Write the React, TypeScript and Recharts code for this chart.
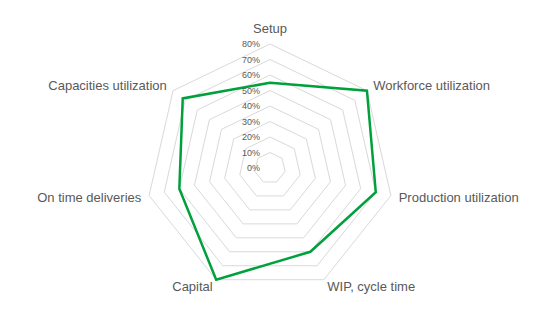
import React from "react";
import { RadarChart, Radar, PolarGrid, PolarAngleAxis, PolarRadiusAxis } from "recharts";

const categories = [
  "Setup",
  "Workforce utilization",
  "Production utilization",
  "WIP, cycle time",
  "Capital",
  "On time deliveries",
  "Capacities utilization",
];
const values = [55, 80, 70, 60, 80, 60, 72];
const radiusTicks = [0, 10, 20, 30, 40, 50, 60, 70, 80];

const data = categories.map((c, i) => ({ name: c, value: values[i] }));

const FONT = "'Liberation Sans', Arial, sans-serif";

const AngleTick = (props: any) => {
  const { x, y, payload, textAnchor, index } = props;
  let dy = 0;
  if (index === 0) dy = -8;
  return (
    <text
      x={x}
      y={y + dy}
      textAnchor={textAnchor}
      dominantBaseline="central"
      fontFamily={FONT}
      fontSize={13}
      fill="#595959"
    >
      {payload.value}
    </text>
  );
};

const RadiusTick = (props: any) => {
  const { x, y, payload } = props;
  return (
    <text
      x={x - 10}
      y={y}
      textAnchor="end"
      dominantBaseline="central"
      fontFamily={FONT}
      fontSize={9}
      fill="#595959"
    >
      {payload.value + "%"}
    </text>
  );
};

export default function App() {
  return (
    <div style={{ position: "absolute", left: 0, top: 0, width: 555, height: 312, background: "#fff" }}>
      <RadarChart
        width={555}
        height={312}
        data={data}
        cx={270}
        cy={168}
        outerRadius={124}
        margin={{ top: 0, right: 0, bottom: 0, left: 0 }}
      >
        <PolarGrid gridType="polygon" radialLines={false} stroke="#d9d9d9" strokeWidth={1} />
        <PolarAngleAxis dataKey="name" tick={<AngleTick />} tickLine={false} axisLine={false} />
        <PolarRadiusAxis
          angle={90}
          type="number"
          domain={[0, 80]}
          tickCount={9}
          allowDataOverflow={true}
          ticks={radiusTicks as any}
          axisLine={false}
          tickLine={false}
          tick={<RadiusTick />}
        />
        <Radar
          dataKey="value"
          stroke="#00A03C"
          strokeWidth={2.5}
          fill="none"
          fillOpacity={0}
          dot={false}
          isAnimationActive={false}
        />
      </RadarChart>
    </div>
  );
}
